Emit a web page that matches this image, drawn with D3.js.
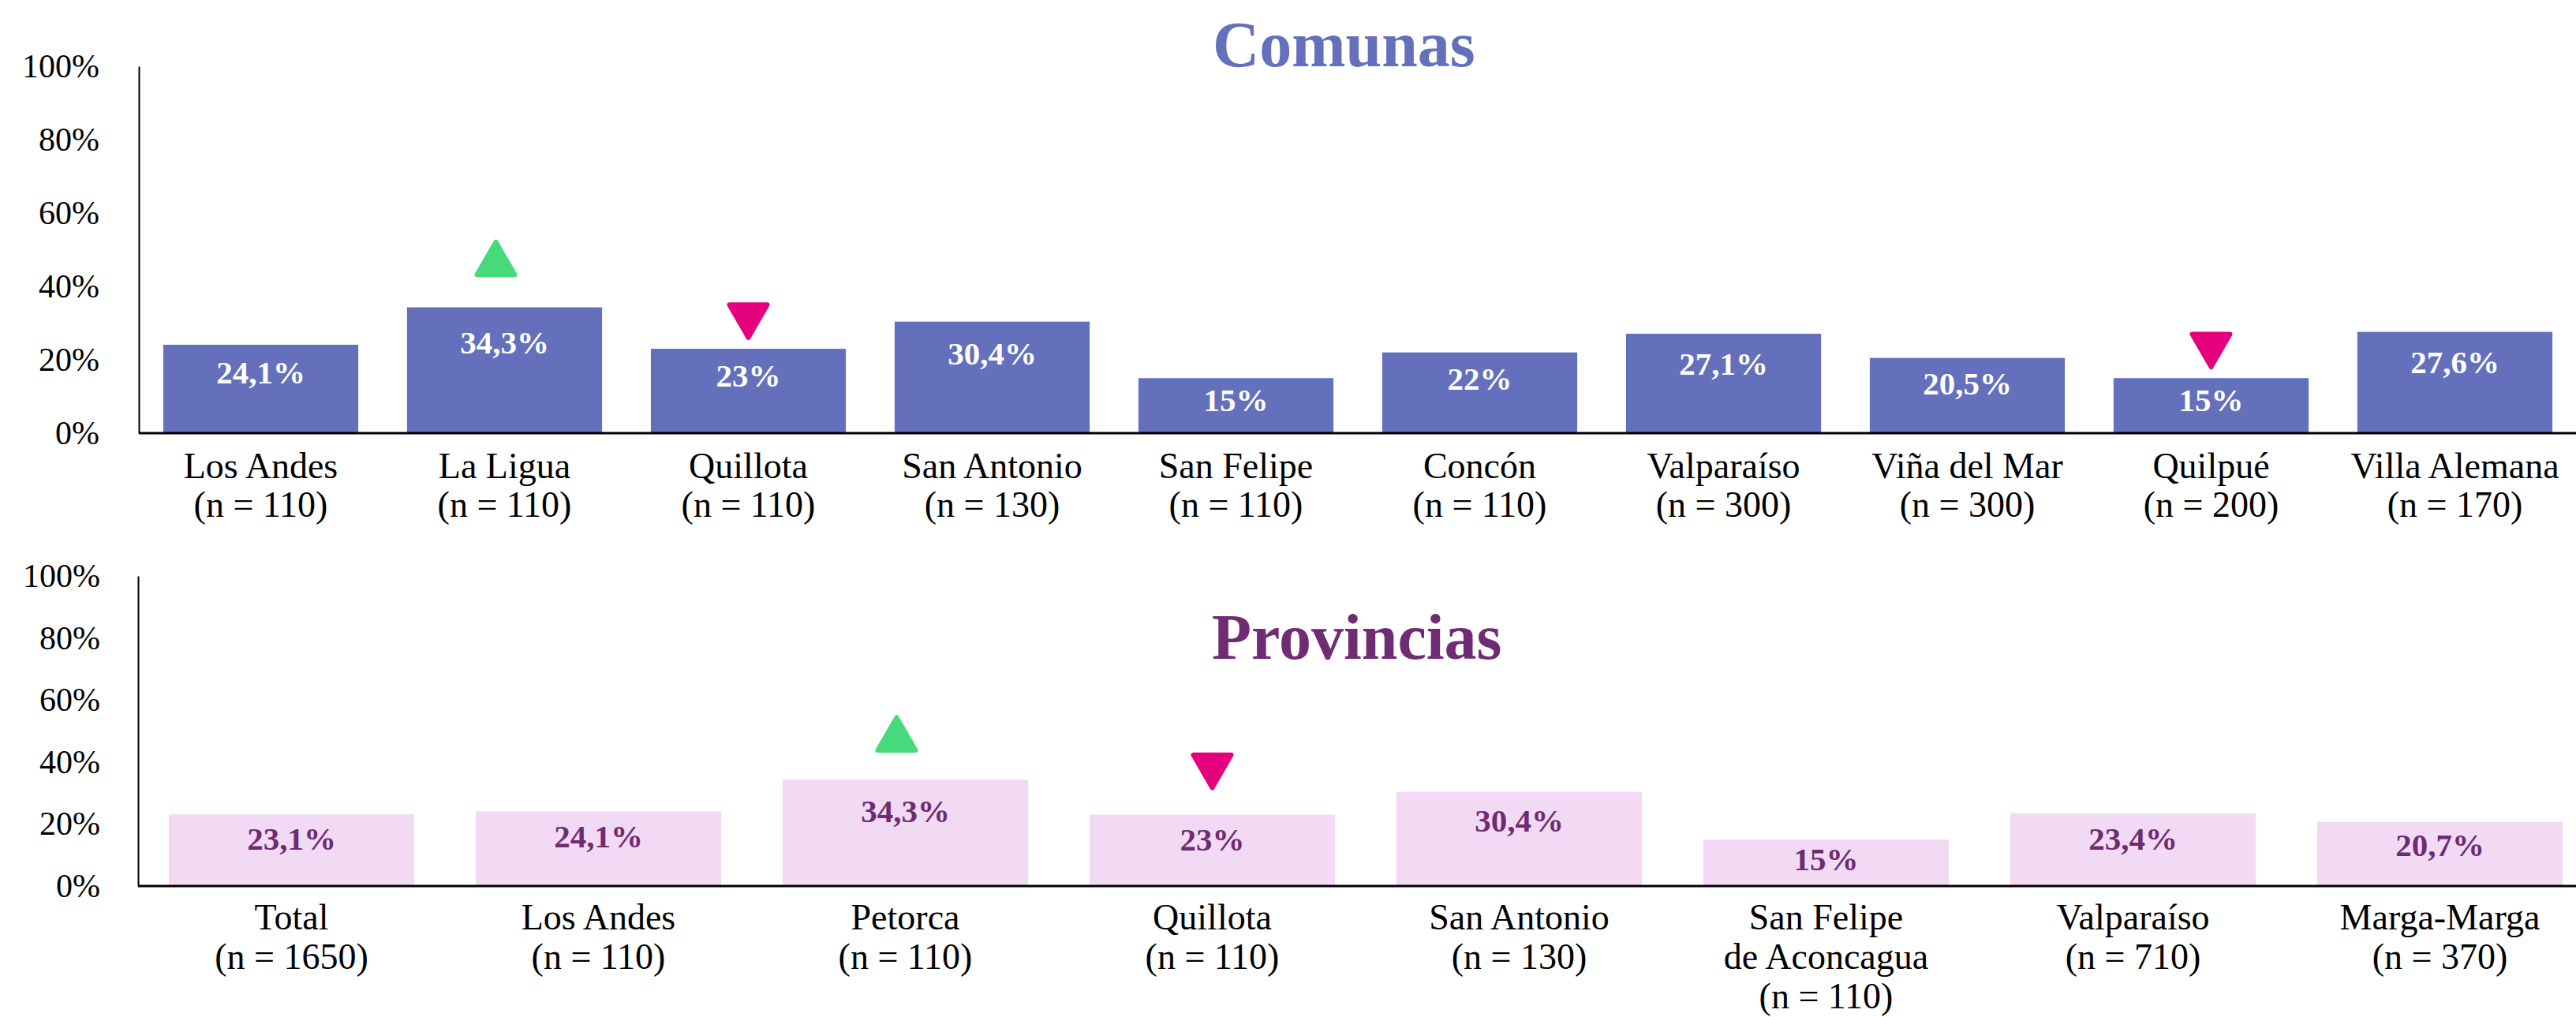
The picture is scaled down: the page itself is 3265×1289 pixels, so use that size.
<!DOCTYPE html>
<html>
<head>
<meta charset="utf-8">
<script src="https://cdn.jsdelivr.net/npm/d3@7"></script>
<style>
  html, body { margin: 0; padding: 0; background: #fff; }
  svg { display: block; }
  text { font-family: "Liberation Serif", "Times New Roman", serif; }
</style>
</head>
<body>
<svg id="chart" width="3265" height="1289"></svg>
<script>
// ---- Data ----
const comunasCategories = ["Los Andes", "La Ligua", "Quillota", "San Antonio", "San Felipe", "Concón", "Valparaíso", "Viña del Mar", "Quilpué", "Villa Alemana"];
const comunasN = [110, 110, 110, 130, 110, 110, 300, 300, 200, 170];
const comunasValues = [24.1, 34.3, 23, 30.4, 15, 22, 27.1, 20.5, 15, 27.6];
const comunasMarkers = ["", "up", "down", "", "", "", "", "", "down", ""];

const provinciasCategories = ["Total", "Los Andes", "Petorca", "Quillota", "San Antonio", "San Felipe\nde Aconcagua", "Valparaíso", "Marga-Marga"];
const provinciasN = [1650, 110, 110, 110, 130, 110, 710, 370];
const provinciasValues = [23.1, 24.1, 34.3, 23, 30.4, 15, 23.4, 20.7];
const provinciasMarkers = ["", "", "up", "down", "", "", "", ""];

const yTicks = [0, 20, 40, 60, 80, 100];
const yTickLabels = ["0%", "20%", "40%", "60%", "80%", "100%"];

// ---- Drawing ----
const svg = d3.select("#chart");
const W = 3265;
const SERIF = "Liberation Serif, Times New Roman, serif";

function fmt(v) {
  return (Number.isInteger(v) ? String(v) : v.toFixed(1).replace(".", ",")) + "%";
}

function drawPanel(opt) {
  const g = svg.append("g");
  const x = d3.scaleBand().domain(opt.categories).range(opt.xRange).paddingInner(0.2).paddingOuter(0.1);
  const y = d3.scaleLinear().domain([0, 100]).range([opt.y0, opt.y100]);

  // title
  g.append("text")
    .attr("x", opt.titleX).attr("y", opt.titleY)
    .attr("text-anchor", "start")
    .attr("font-family", SERIF)
    .attr("font-weight", "bold").attr("font-size", 82)
    .attr("fill", opt.titleColor)
    .text(opt.title);

  // bars
  g.selectAll("rect.bar").data(opt.values).join("rect")
    .attr("class", "bar")
    .attr("x", (d, i) => x(opt.categories[i]))
    .attr("y", d => y(d))
    .attr("width", x.bandwidth())
    .attr("height", d => y(0) - y(d))
    .attr("fill", opt.barColor);

  // bar labels
  g.selectAll("text.vlab").data(opt.values).join("text")
    .attr("class", "vlab")
    .attr("x", (d, i) => x(opt.categories[i]) + x.bandwidth() / 2)
    .attr("y", d => y(d) + 28 + 0.19 * (y(0) - y(d)))
    .attr("text-anchor", "middle")
    .attr("font-family", SERIF)
    .attr("font-weight", "bold").attr("font-size", 41)
    .attr("fill", opt.labelColor)
    .text(d => fmt(d));

  // markers
  const tri = d3.symbol().type(d3.symbolTriangle).size(998);
  const h = 48 * Math.sqrt(3) / 2;
  opt.markers.forEach((m, i) => {
    if (!m) return;
    const cx = x(opt.categories[i]) + x.bandwidth() / 2 + (m === "up" ? -11 : 0);
    const top = y(opt.values[i]);
    let cy, rot, col;
    if (m === "up") { cy = top + opt.upOff + h / 6; rot = 0; col = "#46da7a"; }
    else { cy = top + opt.downOff - h / 6; rot = 180; col = "#e5007e"; }
    g.append("path")
      .attr("d", tri())
      .attr("transform", `translate(${cx},${cy}) rotate(${rot})`)
      .attr("fill", col).attr("stroke", col)
      .attr("stroke-width", 6).attr("stroke-linejoin", "round");
  });

  // y axis
  const yAxis = d3.axisLeft(y).tickValues(yTicks).tickFormat((d, i) => yTickLabels[i])
    .tickSize(0).tickPadding(opt.tickPad);
  const ya = g.append("g").attr("transform", `translate(${opt.xRange[0]},0)`).call(yAxis);
  ya.attr("font-family", SERIF);
  ya.select(".domain").attr("stroke", "#000").attr("stroke-width", 2);
  ya.selectAll(".tick text")
    .attr("font-family", SERIF)
    .attr("font-size", 42).attr("fill", "#000");

  // x axis
  g.append("line")
    .attr("x1", opt.xRange[0]).attr("x2", W)
    .attr("y1", y(0)).attr("y2", y(0))
    .attr("stroke", "#000").attr("stroke-width", 3);

  // category labels
  opt.categories.forEach((c, i) => {
    const lines = c.split("\n").concat([`(n = ${opt.n[i]})`]);
    const t = g.append("text")
      .attr("text-anchor", "middle")
      .attr("font-family", SERIF)
      .attr("font-size", 46).attr("fill", "#000");
    lines.forEach((ln, k) => {
      t.append("tspan")
        .attr("x", x(c) + x.bandwidth() / 2)
        .attr("y", y(0) + opt.labGap + k * opt.lineH)
        .text(ln);
    });
  });
}

drawPanel({
  title: "Comunas", titleX: 1537, titleY: 84, titleColor: "#6470bb",
  categories: comunasCategories, n: comunasN, values: comunasValues, markers: comunasMarkers,
  xRange: [176, 3266], y0: 549, y100: 84,
  barColor: "#6470bb", labelColor: "#ffffff",
  upOff: -62, downOff: -35, tickPad: 50, labGap: 57, lineH: 49
});

drawPanel({
  title: "Provincias", titleX: 1536, titleY: 835, titleColor: "#702c73",
  categories: provinciasCategories, n: provinciasN, values: provinciasValues, markers: provinciasMarkers,
  xRange: [175, 3287], y0: 1123, y100: 730,
  barColor: "#f2daf4", labelColor: "#6e2b73",
  upOff: -58, downOff: -55, tickPad: 48, labGap: 55, lineH: 50
});
</script>
</body>
</html>
